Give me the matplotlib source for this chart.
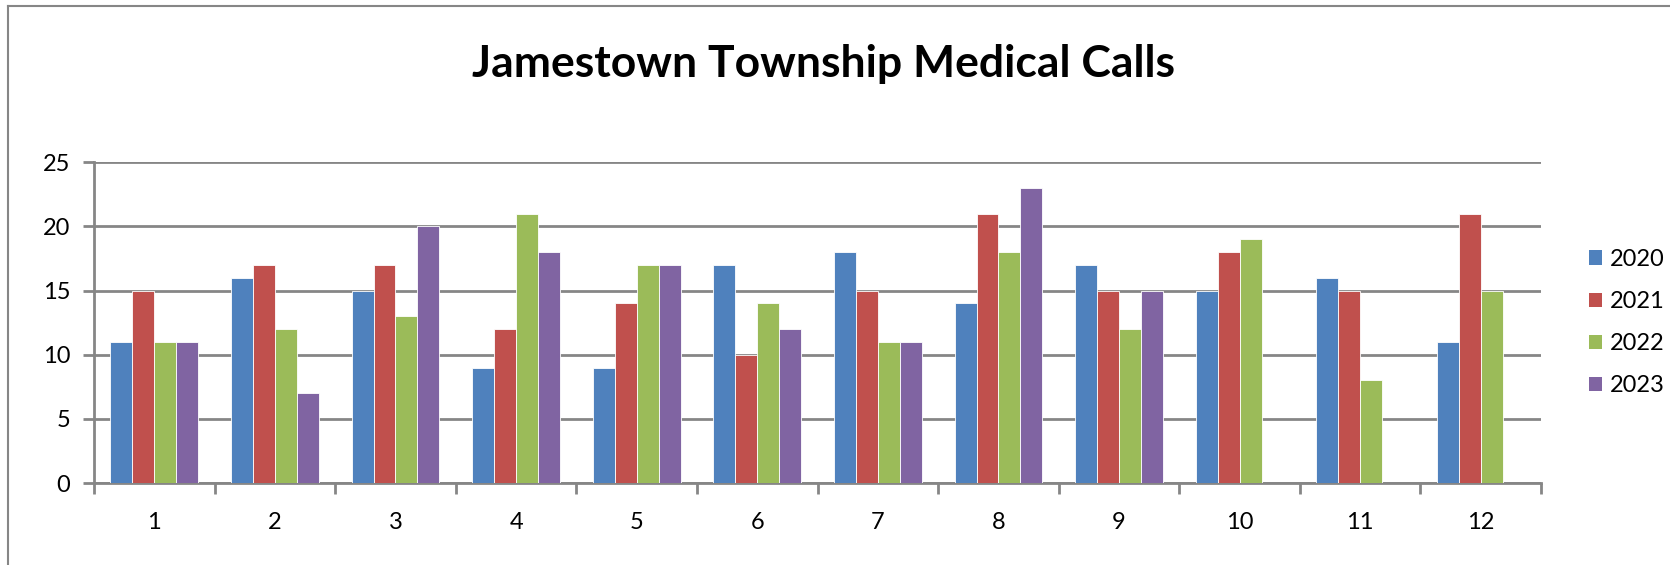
import matplotlib
matplotlib.use('Agg')
import matplotlib.pyplot as plt
import numpy as np
from matplotlib.lines import Line2D
from matplotlib.patches import Patch

# Monthly medical calls per year
months = ['1', '2', '3', '4', '5', '6', '7', '8', '9', '10', '11', '12']
years = ['2020', '2021', '2022', '2023']
calls_2020 = [11, 16, 15, 9, 9, 17, 18, 14, 17, 15, 16, 11]
calls_2021 = [15, 17, 17, 12, 14, 10, 15, 21, 15, 18, 15, 21]
calls_2022 = [11, 12, 13, 21, 17, 14, 11, 18, 12, 19, 8, 15]
calls_2023 = [11, 7, 20, 18, 17, 12, 11, 23, 15, np.nan, np.nan, np.nan]

series = [calls_2020, calls_2021, calls_2022, calls_2023]
colors = ['#4F81BD', '#C0504D', '#9BBB59', '#8064A2']

plt.rcParams['font.family'] = ['Lato', 'DejaVu Sans']

fig = plt.figure(figsize=(16.7, 5.65), dpi=100)
ax = fig.add_axes([0.0563, 0.145, 0.9228 - 0.0563, 0.713 - 0.145])

x = np.arange(len(months))
width = 1 / 5.5  # Excel-style gap width of 150%
for i, (vals, c) in enumerate(zip(series, colors)):
    ax.bar(x + (i - 1.5) * width, vals, width=width, color=c,
           edgecolor='white', linewidth=0.6, label=years[i], zorder=3)

ax.set_xlim(-0.5, len(months) - 0.5)
ax.set_ylim(0, 25)
ax.set_yticks(range(0, 26, 5))
ax.yaxis.grid(True, color='#868686', linewidth=2, zorder=0)
ax.set_axisbelow(True)

# x ticks at category boundaries, labels at centres
ax.set_xticks(np.arange(-0.5, len(months), 1))
ax.set_xticklabels([])
ax.set_xticks(x, minor=True)
ax.set_xticklabels(months, minor=True)
ax.tick_params(axis='x', which='major', length=8, width=2, color='#868686')
ax.tick_params(axis='x', which='minor', length=0, pad=21, labelsize=17)
ax.tick_params(axis='y', length=8, width=2, color='#868686', labelsize=17, pad=9)

for s in ['top', 'right']:
    ax.spines[s].set_visible(False)
for s in ['left', 'bottom']:
    ax.spines[s].set_color('#868686')
    ax.spines[s].set_linewidth(2)

handles = [Patch(facecolor=c, edgecolor='none') for c in colors]
fig.legend(handles, years, loc='center left', bbox_to_anchor=(0.9445, 0.429),
           frameon=False, fontsize=17, handlelength=0.55, handleheight=0.55,
           handletextpad=0.35, labelspacing=0.9, borderpad=0)

fig.text(0.493, 0.887, 'Jamestown Township Medical Calls', ha='center',
         va='center', fontsize=32, fontweight='bold')

# chart border (only top and left edges show in the picture)
fig.add_artist(Line2D([0.0045, 0.0045], [0, 0.989], color='#868686', linewidth=1.5,
                      transform=fig.transFigure))
fig.add_artist(Line2D([0.0045, 1], [0.989, 0.989], color='#868686', linewidth=1.5,
                      transform=fig.transFigure))

fig.savefig('out.png', dpi=100)
